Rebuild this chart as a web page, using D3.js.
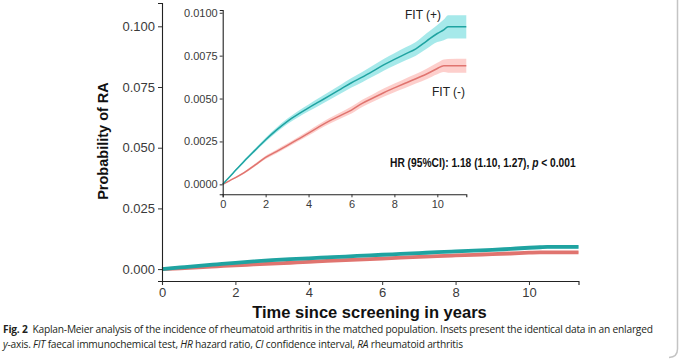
<!DOCTYPE html>
<html><head><meta charset="utf-8">
<script src="https://cdn.jsdelivr.net/npm/d3@7"></script>
<style>body{margin:0;background:#fff}svg{display:block}</style>
</head><body>
<svg id="c" width="680" height="359"></svg>
<script>
// ---- data ----
const years = [0,0.5,1,1.5,2,2.5,3,3.5,4,4.5,5,5.5,6,6.5,7,7.5,8,8.5,9,9.5,10,10.3,10.5,11.35];
const fitPos = [0,0.00068,0.00135,0.00198,0.0026,0.00316,0.00366,0.00408,0.00446,0.00482,0.00518,0.00555,0.00592,0.00625,0.0066,0.00696,0.00728,0.00759,0.0079,0.00835,0.00879,0.009,0.00918,0.00918];
const fitPosCI = [0,0.00005,0.00008,0.0001,0.00012,0.00014,0.00016,0.00018,0.0002,0.00022,0.00024,0.00026,0.00028,0.0003,0.00032,0.00034,0.00036,0.00038,0.0004,0.00045,0.0005,0.0006,0.00068,0.00068];
const fitNeg = [0,0.00033,0.00068,0.00112,0.00157,0.00191,0.00226,0.00262,0.00298,0.00336,0.00371,0.00402,0.00433,0.00472,0.00503,0.00534,0.00562,0.00589,0.00615,0.00643,0.00675,0.00691,0.00691,0.00691];
const fitNegCI = [0,0.00004,0.00006,0.00008,0.0001,0.00011,0.00012,0.00013,0.00014,0.00015,0.00017,0.00018,0.0002,0.00021,0.00022,0.00024,0.00025,0.00027,0.00028,0.0003,0.00033,0.00037,0.0004,0.00041];
const mainYTicks = [0,0.025,0.05,0.075,0.1];
const insetYTicks = [0,0.0025,0.005,0.0075,0.01];
const xTicks = [0,2,4,6,8,10];
const seriesNames = ["FIT (+)","FIT (-)"];

const svg = d3.select("#c");
const font = "'Liberation Sans', Arial, sans-serif";
const cols = {pos:{line:"#1fa3a1",band:"#00bfc4"}, neg:{line:"#e0746f",band:"#f8766d"}};

function mk(v, ci){ return years.map((t,i)=>({t, v:v[i], lo:v[i]-ci[i], hi:v[i]+ci[i]})); }
const series = [{name:seriesNames[0], d:mk(fitPos,fitPosCI), c:cols.pos},
                {name:seriesNames[1], d:mk(fitNeg,fitNegCI), c:cols.neg}];

function drawPanel(x, y, lw, bandOp){
  const g = svg.append("g");
  series.slice().reverse().forEach(s=>{
    g.append("path").datum(s.d)
      .attr("d", d3.area().x(d=>x(d.t)).y0(d=>y(d.lo)).y1(d=>y(d.hi)).curve(d3.curveMonotoneX))
      .attr("fill", s.c.band).attr("opacity", bandOp);
  });
  series.slice().reverse().forEach(s=>{
    g.append("path").datum(s.d)
      .attr("d", d3.line().x(d=>x(d.t)).y(d=>y(d.v)).curve(d3.curveMonotoneX))
      .attr("fill","none").attr("stroke", s.c.line).attr("stroke-width", lw).attr("stroke-linejoin","round");
  });
}
function styleAxis(g, fs){
  g.selectAll(".domain").attr("stroke","#222").attr("stroke-width",1.1);
  g.selectAll(".tick line").attr("stroke","#333").attr("stroke-width",1);
  g.selectAll(".tick text").attr("fill","#3a3a3a").style("font-family",font).style("font-size",fs+"px");
}
function fit(sel, target){
  const n = sel.node();
  const w = n.getComputedTextLength();
  const chars = n.textContent.length;
  if (chars > 1) sel.style("letter-spacing", ((target - w)/(chars-1)).toFixed(3)+"px");
}

// ---- main panel ----
const xM = d3.scaleLinear().domain([0,11.35]).range([162,578.5]);
const yM = d3.scaleLinear().domain([-0.0049,0.1096]).range([281,3]);
drawPanel(xM, yM, 3.8, 0.35);
const axMx = svg.append("g").attr("transform","translate(0,281)")
  .call(d3.axisBottom(xM).tickValues(xTicks).tickFormat(d3.format("d")).tickSizeOuter(0).tickSize(4).tickPadding(3));
styleAxis(axMx, 13);
const axMy = svg.append("g").attr("transform","translate(162,0)")
  .call(d3.axisLeft(yM).tickValues(mainYTicks).tickFormat(d3.format(".3f")).tickSizeOuter(0).tickSize(4).tickPadding(3));
styleAxis(axMy, 13);

// ---- inset panel ----
const xI = d3.scaleLinear().domain([0,11.35]).range([222.7,466.3]);
const yI = d3.scaleLinear().domain([-0.00058,0.01016]).range([194.3,10]);
drawPanel(xI, yI, 1.5, 0.35);
const axIx = svg.append("g").attr("transform","translate(0,194.3)")
  .call(d3.axisBottom(xI).tickValues(xTicks).tickFormat(d3.format("d")).tickSizeOuter(0).tickSize(3).tickPadding(3));
styleAxis(axIx, 11);
const axIy = svg.append("g").attr("transform","translate(222.7,0)")
  .call(d3.axisLeft(yI).tickValues(insetYTicks).tickFormat(d3.format(".4f")).tickSizeOuter(0).tickSize(3).tickPadding(2));
styleAxis(axIy, 11);

// labels
svg.append("text").attr("x",405).attr("y",18.5).text(seriesNames[0])
  .style("font-family",font).style("font-size","12px").attr("fill","#222");
svg.append("text").attr("x",432).attr("y",96).text(seriesNames[1])
  .style("font-family",font).style("font-size","12px").attr("fill","#222");
const hr = svg.append("text").attr("x",0).attr("y",0)
  .style("font-family",font).style("font-size","12px").style("font-weight","bold").attr("fill","#111");
hr.append("tspan").text("HR (95%CI): 1.18 (1.10, 1.27), ");
hr.append("tspan").style("font-style","italic").text("p");
hr.append("tspan").text(" < 0.001");
{
  const w = hr.node().getComputedTextLength();
  const sx = Math.min(1, 186 / w);
  hr.attr("transform", `translate(390,167) scale(${sx.toFixed(3)},1)`);
}

// axis titles
svg.append("text").attr("transform","translate(108,141) rotate(-90)").attr("text-anchor","middle")
  .style("font-family",font).style("font-size","14.5px").style("font-weight","bold").attr("fill","#111")
  .text("Probability of RA");
svg.append("text").attr("x",369.5).attr("y",318).attr("text-anchor","middle")
  .style("font-family",font).style("font-size","16.5px").style("font-weight","bold").attr("fill","#111")
  .text("Time since screening in years");

// caption
const capFont = "'Open Sans','Noto Sans',sans-serif";
const c1 = svg.append("text").attr("x",3).attr("y",333)
  .style("font-family",capFont).style("font-size","10.2px").attr("fill","#231f20");
c1.append("tspan").style("font-weight","bold").text("Fig. 2");
c1.append("tspan").text("\u2002Kaplan-Meier analysis of the incidence of rheumatoid arthritis in the matched population. Insets present the identical data in an enlarged");
fit(c1, 650);
const c2 = svg.append("text").attr("x",3).attr("y",348)
  .style("font-family",capFont).style("font-size","10.2px").attr("fill","#231f20");
[["y","i"],["-axis. ",""],["FIT","i"],[" faecal immunochemical test, ",""],["HR","i"],[" hazard ratio, ",""],["CI","i"],[" confidence interval, ",""],["RA","i"],[" rheumatoid arthritis",""]]
  .forEach(([t,s])=>{ const ts=c2.append("tspan").text(t); if(s) ts.style("font-style","italic"); });
fit(c2, 460);

// frame edge
svg.append("path").attr("d","M677.5,0 V349 Q677.5,357 669,357.5").attr("fill","none").attr("stroke","#c4c4c4").attr("stroke-width",1.5);
</script>
</body></html>
